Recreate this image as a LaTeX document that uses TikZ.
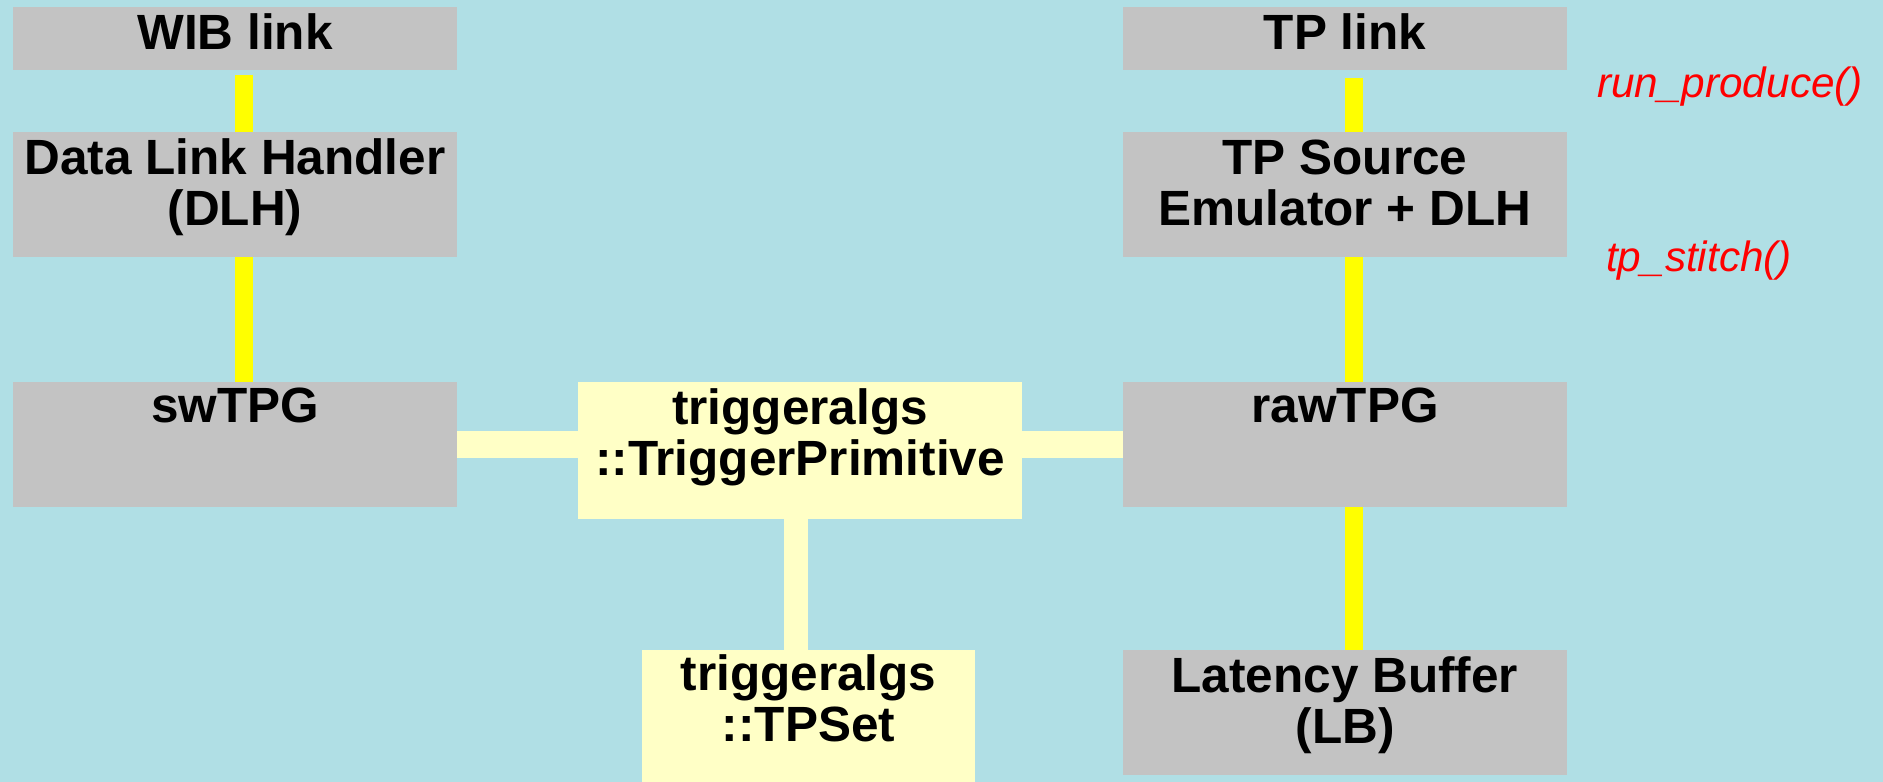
\documentclass[tikz,border=0pt]{standalone}
\usepackage{fontspec}
\setmainfont{Liberation Sans}
\definecolor{bgblue}{HTML}{B0DFE5}
\definecolor{boxgray}{HTML}{C3C3C3}
\definecolor{paleyellow}{HTML}{FFFFC6}
\definecolor{linkyellow}{HTML}{FFFF00}
\definecolor{notered}{HTML}{FF0000}
\newcommand\firstline{\rule{0pt}{43pt}}
\tikzset{
  blk/.style={rectangle, draw=none, inner sep=0pt, outer sep=0pt, minimum width=444pt},
  graybox/.style={blk, fill=boxgray},
  ybox/.style={blk, fill=paleyellow},
  lbl/.style={anchor=north, inner sep=0pt, outer sep=0pt, align=center,
    font=\bfseries\fontsize{49.5}{51}\selectfont},
  note/.style={anchor=base west, inner sep=0pt, text=notered,
    font=\itshape\fontsize{42.3}{48}\selectfont},
  yconn/.style={draw=linkyellow, line width=18pt},
  pconn/.style={draw=paleyellow, line width=27pt},
  pvconn/.style={draw=paleyellow, line width=24pt}
}
\begin{document}
\begin{tikzpicture}[x=1pt, y=1pt]
\useasboundingbox (0,0) rectangle (1883,782);
\fill[bgblue] (0,0) rectangle (1883,782);
% boxes
\node[graybox, minimum height=63pt]  (wib)    at (235,743.5) {};
\node[graybox, minimum height=125pt] (dlh)    at (235,587.5) {};
\node[graybox, minimum height=125pt] (sw)     at (235,337.5) {};
\node[ybox, minimum height=137pt]    (tp)     at (800,331.5) {};
\node[ybox, minimum width=333pt, minimum height=132pt] (tps) at (808.5,66) {};
\node[graybox, minimum height=63pt]  (tplink) at (1345,743.5) {};
\node[graybox, minimum height=125pt] (src)    at (1345,587.5) {};
\node[graybox, minimum height=125pt] (raw)    at (1345,337.5) {};
\node[graybox, minimum height=125pt] (lb)     at (1345,69.5) {};
% texts
\node[lbl] (wibt)    at (wib.north)    {\firstline WIB link};
\node[lbl] (dlht)    at (dlh.north)    {\firstline Data Link Handler\\(DLH)};
\node[lbl] (swt)     at ([yshift=2pt]sw.north) {\firstline swTPG};
\node[lbl] (tpt)     at (tp.north)     {\firstline triggeralgs\\::TriggerPrimitive};
\node[lbl] (tpst)    at ([yshift=2pt]tps.north) {\firstline triggeralgs\\::TPSet};
\node[lbl] (tplinkt) at (tplink.north) {\firstline TP link};
\node[lbl] (srct)    at (src.north)    {\firstline TP Source\\Emulator + DLH};
\node[lbl] (rawt)    at ([yshift=2pt]raw.north) {\firstline rawTPG};
\node[lbl] (lbt)     at (lb.north)     {\firstline Latency Buffer\\(LB)};
% notes
\node[note] (runp) at (1597,684) {run\_produce()};
\node[note] (stit) at (1606,510) {tp\_stitch()};
% connectors
\draw[yconn, shorten <=5pt] ([xshift=9pt]wib.south) -- ([xshift=9pt]wib.south |- dlh.north);
\draw[yconn] ([xshift=9pt]dlh.south) -- ([xshift=9pt]dlh.south |- sw.north);
\draw[yconn, shorten <=8pt] ([xshift=9pt]tplink.south) -- ([xshift=9pt]tplink.south |- src.north);
\draw[yconn] ([xshift=9pt]src.south) -- ([xshift=9pt]src.south |- raw.north);
\draw[yconn] ([xshift=9pt]raw.south) -- ([xshift=9pt]raw.south |- lb.north);
\draw[pconn] (sw.east) -- (sw.east -| tp.west);
\draw[pconn] (raw.west -| tp.east) -- (raw.west);
\draw[pvconn] ([xshift=-4pt]tp.south) -- ([xshift=-4pt]tp.south |- tps.north);
\end{tikzpicture}
\end{document}
